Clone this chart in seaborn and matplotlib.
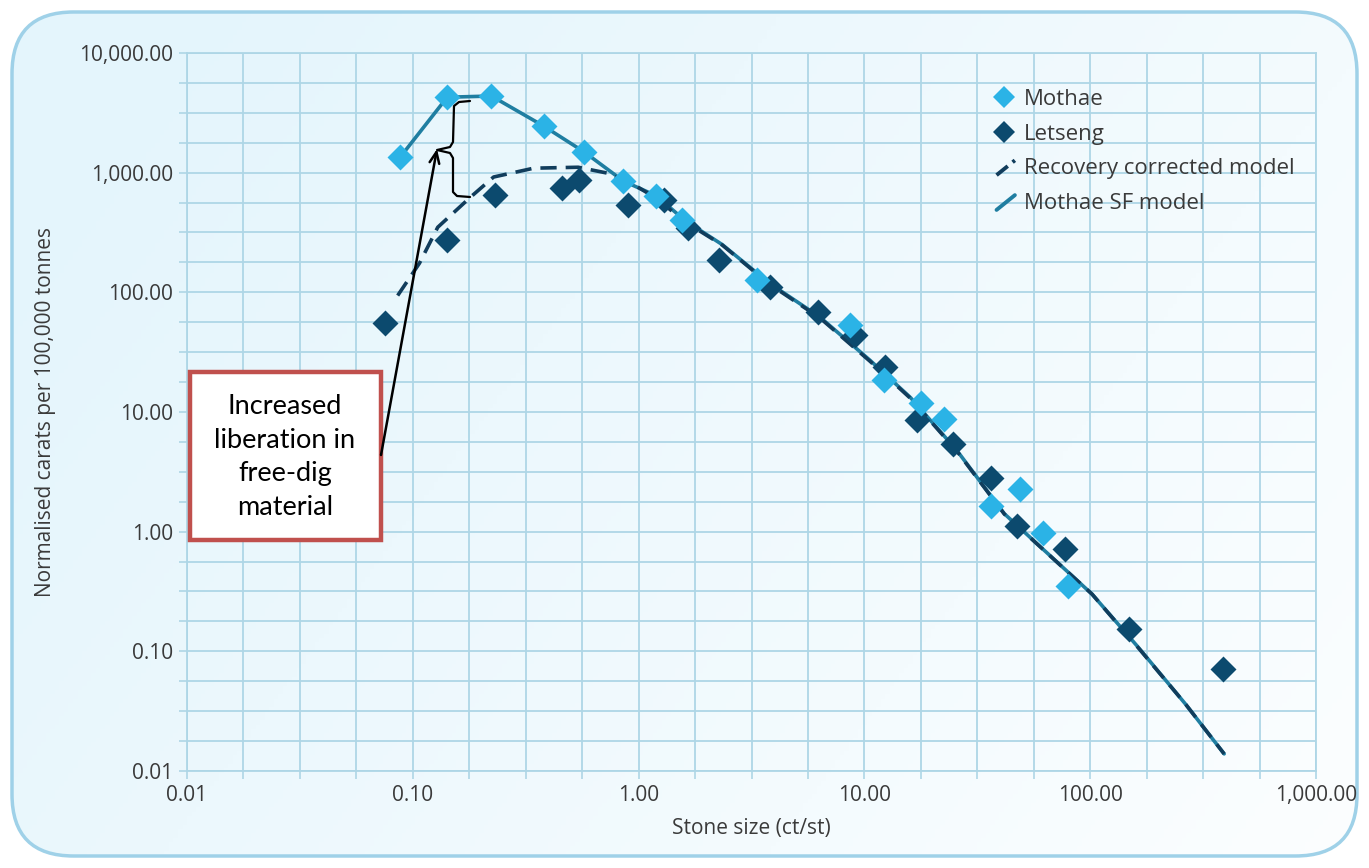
import matplotlib
matplotlib.use("Agg")
import matplotlib.pyplot as plt
import numpy as np
import pandas as pd
import seaborn as sns
from matplotlib.legend_handler import HandlerBase
from matplotlib.lines import Line2D
from matplotlib.patches import FancyBboxPatch, Rectangle
from matplotlib.ticker import FixedLocator, FuncFormatter

# Values
mothae_x = [0.088, 0.142, 0.223, 0.38, 0.574, 0.857, 1.2, 1.56, 3.36, 8.66,
            12.2, 17.9, 22.5, 36.5, 48.7, 61.7, 79.8]
mothae_y = [1350, 4270, 4370, 2450, 1490, 850, 635, 400, 126, 53,
            18.4, 11.8, 8.8, 1.65, 2.29, 0.98, 0.353]

letseng_x = [0.075, 0.142, 0.232, 0.458, 0.545, 0.90, 1.29, 1.65, 2.28, 3.8,
             6.23, 9.1, 12.4, 17.1, 24.6, 36.5, 47.6, 77.3, 148, 388]
letseng_y = [55, 272, 648, 743, 865, 535, 590, 343, 185, 110,
             68, 44, 23.6, 8.5, 5.45, 2.83, 1.12, 0.72, 0.154, 0.071]

sf_x = [0.088, 0.142, 0.223, 0.38, 0.574, 0.857, 1.2, 1.6, 2.35, 3.8,
        6.36, 10.6, 16, 25.7, 41.7, 102, 164, 265, 392]
sf_y = [1350, 4270, 4370, 2450, 1490, 850, 640, 400, 250, 119,
        62, 27, 13.2, 4.76, 1.41, 0.30, 0.107, 0.036, 0.0139]

rec_x = [0.0857, 0.107, 0.129, 0.18, 0.228, 0.343, 0.54, 0.73, 0.96, 1.2,
         1.6, 2.35, 3.8, 6.36, 10.6, 16, 25.7, 41.7, 102, 164, 265, 392]
rec_y = [94, 175, 350, 624, 920, 1090, 1110, 990, 786, 610,
         390, 248, 117, 61, 26.5, 13, 4.7, 1.4, 0.30, 0.106, 0.036, 0.0139]

decade_ticks = [0.01, 0.1, 1, 10, 100, 1000, 10000]

C_MOTHAE = "#2bb3e6"
C_LETSENG = "#0c4a6e"
C_SF = "#1f7ea1"
C_REC = "#113d5c"
C_GRID = "#aed6e6"
C_TEXT = "#3a3a3a"

sns.set_style("white")
plt.rcParams["font.family"] = ["Open Sans", "DejaVu Sans"]


class DiagHandler(HandlerBase):
    def create_artists(self, legend, orig_handle, xdescent, ydescent,
                       width, height, fontsize, trans):
        x0 = -xdescent + width * 0.2
        x1 = -xdescent + width * 0.95
        y0 = -ydescent - height * 0.05
        y1 = -ydescent + height * 0.9
        ln = Line2D([x0, x1], [y0, y1], color=orig_handle.get_color(),
                    lw=orig_handle.get_linewidth(),
                    linestyle=orig_handle.get_linestyle(), transform=trans)
        return [ln]


fig = plt.figure(figsize=(13.69, 8.68), dpi=100)
W, H = 1369, 868

# background with rounded border
bg = fig.add_axes([0, 0, 1, 1], zorder=-5)
bg.set_axis_off()
gx = np.linspace(0, 1, 300)
gy = np.linspace(0, 1, 200)
GX, GY = np.meshgrid(gx, gy)
t = np.clip(0.75 * GX + 0.35 * (1 - GY) - 0.1, 0, 1)
c0 = np.array([228, 245, 252]) / 255
c1 = np.array([252, 254, 255]) / 255
img = c0[None, None, :] * (1 - t[..., None]) + c1[None, None, :] * t[..., None]
im = bg.imshow(img, extent=[0, 1, 0, 1], origin="lower", aspect="auto",
               transform=bg.transAxes)
frame = FancyBboxPatch((12 / W, 12 / H), 1 - 24 / W, 1 - 24 / H,
                       boxstyle="round,pad=0,rounding_size=0.045",
                       transform=bg.transAxes, facecolor="none",
                       edgecolor="#9fd1e8", lw=2.5, mutation_aspect=W / H)
bg.add_patch(frame)
im.set_clip_path(frame)
bg.set_xlim(0, 1)
bg.set_ylim(0, 1)

ax = fig.add_axes([187 / W, 1 - 771 / H, (1316 - 187) / W, (771 - 53) / H])
ax.set_facecolor("none")

pts = pd.concat([
    pd.DataFrame({"size": letseng_x, "carats": letseng_y, "mine": "Letseng"}),
    pd.DataFrame({"size": mothae_x, "carats": mothae_y, "mine": "Mothae"}),
])
sf = pd.DataFrame({"size": sf_x, "carats": sf_y})
rec = pd.DataFrame({"size": rec_x, "carats": rec_y})

sns.lineplot(data=sf, x="size", y="carats", ax=ax, color=C_SF, lw=2.6,
             sort=False, estimator=None, zorder=3, legend=False)
sns.lineplot(data=rec, x="size", y="carats", ax=ax, color=C_REC, lw=2.6,
             sort=False, estimator=None, zorder=4, legend=False,
             dashes=False, linestyle=(0, (4.5, 2.5)))
for mine, col in [("Letseng", C_LETSENG), ("Mothae", C_MOTHAE)]:
    sns.scatterplot(data=pts[pts["mine"] == mine], x="size", y="carats", ax=ax,
                    marker="D", s=175, color=col, linewidth=0, zorder=5,
                    legend=False)

ax.set_xscale("log")
ax.set_yscale("log")
ax.set_xlim(0.01, 1000)
ax.set_ylim(0.01, 10000)

quarter_x = [10 ** (k / 4) for k in range(-8, 13)]
quarter_y = [10 ** (k / 4) for k in range(-8, 17)]
ax.xaxis.set_major_locator(FixedLocator(decade_ticks[:6]))
ax.yaxis.set_major_locator(FixedLocator(decade_ticks))
ax.xaxis.set_minor_locator(FixedLocator(quarter_x))
ax.yaxis.set_minor_locator(FixedLocator(quarter_y))
fmt = FuncFormatter(lambda v, p: f"{v:,.2f}")
ax.xaxis.set_major_formatter(fmt)
ax.yaxis.set_major_formatter(fmt)
ax.xaxis.set_minor_formatter(FuncFormatter(lambda v, p: ""))
ax.yaxis.set_minor_formatter(FuncFormatter(lambda v, p: ""))
ax.grid(True, which="both", color=C_GRID, lw=1.3, zorder=0)
ax.set_axisbelow(True)
ax.tick_params(which="both", direction="out", length=6, width=1.2,
               color=C_GRID, labelcolor=C_TEXT, labelsize=15, pad=4)
ax.tick_params(axis="y", which="both", left=True)
ax.tick_params(axis="x", which="both", bottom=True)
for sp in ax.spines.values():
    sp.set_color(C_GRID)
    sp.set_linewidth(1.3)

ax.set_xlabel("Stone size (ct/st)", fontsize=15, color=C_TEXT, labelpad=9)
ax.set_ylabel("Normalised carats per 100,000 tonnes", fontsize=15,
              color=C_TEXT, labelpad=17)

# legend
h_m = Line2D([], [], marker="D", ls="none", color=C_MOTHAE, markersize=11.5,
             markeredgewidth=0)
h_l = Line2D([], [], marker="D", ls="none", color=C_LETSENG, markersize=11.5,
             markeredgewidth=0)
h_r = Line2D([], [], color=C_REC, lw=2.8, linestyle=(0, (2.2, 1.4)))
h_s = Line2D([], [], color=C_SF, lw=2.8)
leg = ax.legend([h_m, h_l, h_r, h_s],
                ["Mothae", "Letseng", "Recovery corrected model", "Mothae SF model"],
                loc="upper left", bbox_to_anchor=(0.695, 0.978), frameon=False,
                fontsize=16, handlelength=1.1, handletextpad=0.35,
                labelspacing=0.62,
                handler_map={h_r: DiagHandler(), h_s: DiagHandler()})
for txt in leg.get_texts():
    txt.set_color(C_TEXT)


# annotation (axes fraction from pixel positions)
def fx(px):
    return (px - 187) / 1129


def fy(py):
    return (771 - py) / 718


box = Rectangle((fx(190), fy(540)), fx(381) - fx(190), fy(372) - fy(540),
                transform=ax.transAxes, facecolor="white", edgecolor="#c0504d",
                lw=3.2, zorder=6, clip_on=False)
ax.add_patch(box)
ax.text(fx(285), fy(457), "Increased\nliberation in\nfree-dig\nmaterial",
        transform=ax.transAxes, ha="center", va="center", fontsize=19.5,
        family=["Lato", "DejaVu Sans"], linespacing=1.42, color="black",
        zorder=7)
ax.annotate("", xy=(fx(437), fy(149)), xytext=(fx(381), fy(455)),
            xycoords="axes fraction", textcoords="axes fraction",
            arrowprops=dict(arrowstyle="->,head_length=0.8,head_width=0.35",
                            color="black", lw=1.8, shrinkA=0, shrinkB=0),
            zorder=7)
brace_px = [(470, 101), (459, 102), (454, 106), (453, 142), (450, 147),
            (437, 150), (450, 153), (453, 158), (453, 192), (457, 196),
            (470, 197)]
ax.plot([fx(p[0]) for p in brace_px], [fy(p[1]) for p in brace_px],
        transform=ax.transAxes, color="black", lw=1.6, zorder=7,
        solid_joinstyle="round")

fig.savefig("out.png", dpi=100)
